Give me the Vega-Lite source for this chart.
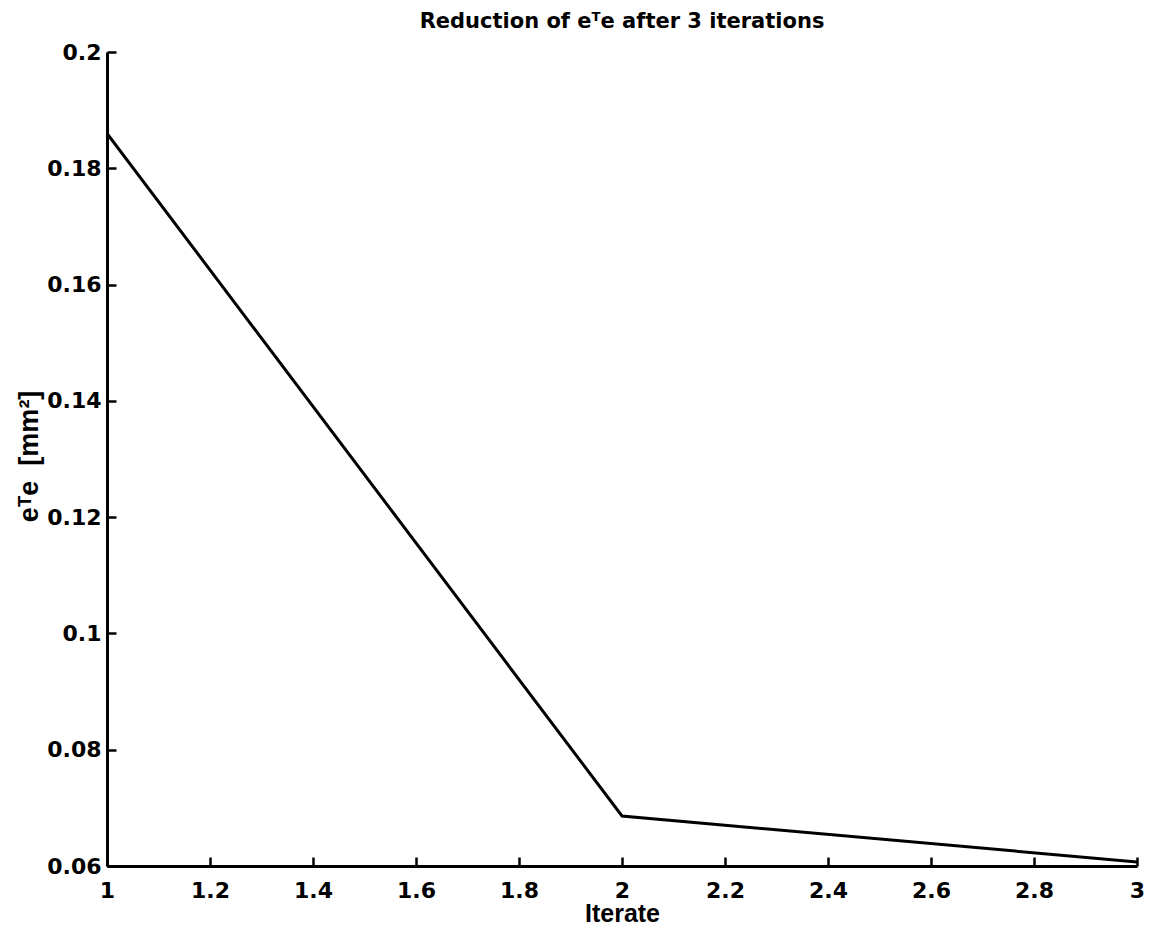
{
  "$schema": "https://vega.github.io/schema/vega-lite/v6.json",
  "autosize": "none",
  "width": 1030,
  "height": 814,
  "padding": {"left": 107, "top": 52, "right": 15, "bottom": 62},
  "background": "white",
  "title": {
    "text": "Reduction of eᵀe after 3 iterations",
    "font": "DejaVu Sans",
    "fontSize": 21,
    "fontWeight": "bold",
    "color": "black",
    "anchor": "middle",
    "frame": "group",
    "offset": 9
  },
  "data": {
    "values": [
      {"iterate": 1, "ete": 0.1860},
      {"iterate": 2, "ete": 0.0686},
      {"iterate": 3, "ete": 0.0607}
    ]
  },
  "mark": {"type": "line", "color": "black", "strokeWidth": 3, "clip": true},
  "encoding": {
    "x": {
      "field": "iterate",
      "type": "quantitative",
      "scale": {"domain": [1, 3], "nice": false, "zero": false},
      "axis": {
        "values": [1, 1.2, 1.4, 1.6, 1.8, 2, 2.2, 2.4, 2.6, 2.8, 3],
        "format": "~g",
        "title": "Iterate",
        "titleFont": "Liberation Sans",
        "titleFontSize": 25,
        "titleFontWeight": "bold",
        "titleColor": "black",
        "titleBaseline": "alphabetic",
        "titleY": 55,
        "titlePadding": 0,
        "labelFont": "DejaVu Sans",
        "labelFontSize": 22,
        "labelFontWeight": "bold",
        "labelColor": "black",
        "labelBaseline": "alphabetic",
        "labelPadding": 40,
        "labelFlush": false,
        "labelOverlap": false,
        "tickSize": -9,
        "tickWidth": 2.5,
        "tickColor": "black",
        "domainColor": "black",
        "domainWidth": 3,
        "grid": false
      }
    },
    "y": {
      "field": "ete",
      "type": "quantitative",
      "scale": {"domain": [0.06, 0.2], "nice": false, "zero": false},
      "axis": {
        "values": [0.06, 0.08, 0.1, 0.12, 0.14, 0.16, 0.18, 0.2],
        "format": "~g",
        "title": "eᵀe\u00a0\u00a0[mm²]",
        "titleFont": "Liberation Sans",
        "titleFontSize": 27,
        "titleFontWeight": "bold",
        "titleColor": "black",
        "titleAngle": -90,
        "titleAlign": "center",
        "titleBaseline": "alphabetic",
        "titleX": -70,
        "titleY": 404,
        "labelFont": "DejaVu Sans",
        "labelFontSize": 22,
        "labelFontWeight": "bold",
        "labelColor": "black",
        "labelPadding": 15,
        "labelFlush": false,
        "labelOverlap": false,
        "tickSize": -9,
        "tickWidth": 2.5,
        "tickColor": "black",
        "domainColor": "black",
        "domainWidth": 3,
        "grid": false
      }
    }
  },
  "config": {"view": {"stroke": null}}
}
